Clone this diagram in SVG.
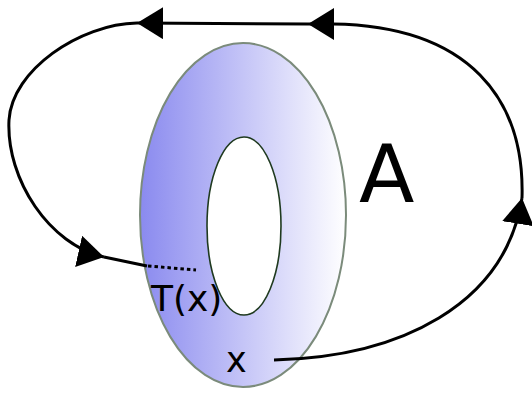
<svg xmlns="http://www.w3.org/2000/svg" width="532" height="395" viewBox="0 0 532 395">
<style>
.conn{fill:none;stroke:#000;stroke-width:3}
.dot{fill:none;stroke:#000;stroke-width:3;stroke-dasharray:3.5,3}
.lbl{font-family:"DejaVu Sans",sans-serif;fill:#000}
</style>
<defs>
<linearGradient id="g" x1="140" y1="0" x2="346" y2="0" gradientUnits="userSpaceOnUse">
<stop offset="0" stop-color="#8a8aef"/>
<stop offset="1" stop-color="#ffffff"/>
</linearGradient>
<marker id="ah" markerUnits="userSpaceOnUse" viewBox="0 0 26 32" markerWidth="26" markerHeight="32" refX="26" refY="16" orient="auto">
<path d="M0,0 L26,16 L0,32 z" fill="#000"/>
</marker>
</defs>
<g id="ring">
<ellipse cx="243" cy="215" rx="103" ry="172" fill="url(#g)" stroke="#7b8b7b" stroke-width="2"/>
<ellipse cx="244" cy="226" rx="37" ry="89" fill="#fff" stroke="#1f3a1f" stroke-width="1.6"/>
</g>
<g id="connectors">
<path class="conn" d="M274,360 C400,357 505,305 522,198" marker-end="url(#ah)"/>
<path class="conn" d="M522,198 C525,100 470,26 333,24 L308,24" marker-end="url(#ah)"/>
<path class="conn" d="M308,24 L137,23" marker-end="url(#ah)"/>
<path class="conn" d="M137,23 C80,24 12,70 9,120 C6,180 50,245 104,257" marker-end="url(#ah)"/>
<path class="conn" d="M104,257 L147,266"/>
<path class="dot" d="M148,266 L196,270"/>
</g>
<g id="label-A"><text class="lbl" x="359" y="202" font-size="81">A</text></g>
<g id="label-Tx"><text class="lbl" x="151" y="311" font-size="36">T(x)</text></g>
<g id="label-x"><text class="lbl" x="226" y="372" font-size="35">x</text></g>
</svg>
